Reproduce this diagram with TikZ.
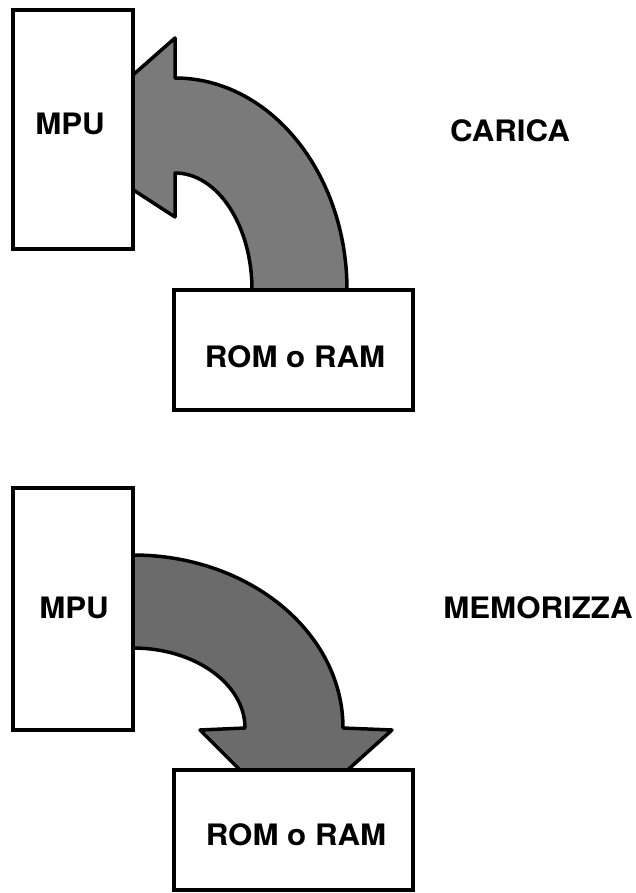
\documentclass[tikz,border=0pt]{standalone}
\usepackage{fontspec}
\setmainfont{TeX Gyre Heros}[FakeStretch=1.06]
\begin{document}
\begin{tikzpicture}[x=1pt,y=-1pt,
  unitbox/.style={draw=black,fill=white,line width=3.5pt,line join=miter},
  bigarrow/.style={draw=black,line width=3.5pt,line join=round},
  lbl/.style={anchor=base,inner sep=0pt,font=\fontsize{29.5}{31}\selectfont\bfseries}]
\useasboundingbox[fill=white] (0,0) rectangle (636,893);
% ---------- CARICA ----------
\draw[bigarrow,fill=black!52] (347,295) -- (347,290)
  .. controls (347,173) and (270,78) .. (175,78)
  -- (175,38) -- (58,141) -- (175,217) -- (175,173)
  .. controls (217.5,173) and (252,225.4) .. (252,290) -- (252,295) -- cycle;
\draw[unitbox] (13,10) rectangle (133,249);
\draw[unitbox] (174,290) rectangle (413,410);
\node[lbl] (mpu1) at (70,135) {MPU};
\node[lbl] (rom1) at (295,367) {ROM o RAM};
\node[lbl] (carica) at (510,142) {CARICA};
% ---------- MEMORIZZA ----------
\draw[bigarrow,fill=black!58] (128,555) -- (133,555)
  .. controls (249,555) and (343,632.5) .. (343,728)
  -- (392,730) -- (291,821) -- (200,730) -- (245,728)
  .. controls (245,684) and (195,648) .. (133,648) -- (128,648) -- cycle;
\draw[unitbox] (13,488) rectangle (133,730);
\draw[unitbox] (174,770) rectangle (413,890);
\node[lbl] (mpu2) at (74,618) {MPU};
\node[lbl] (rom2) at (296,845) {ROM o RAM};
\node[lbl] (memo) at (538,618) {MEMORIZZA};
\end{tikzpicture}
\end{document}
